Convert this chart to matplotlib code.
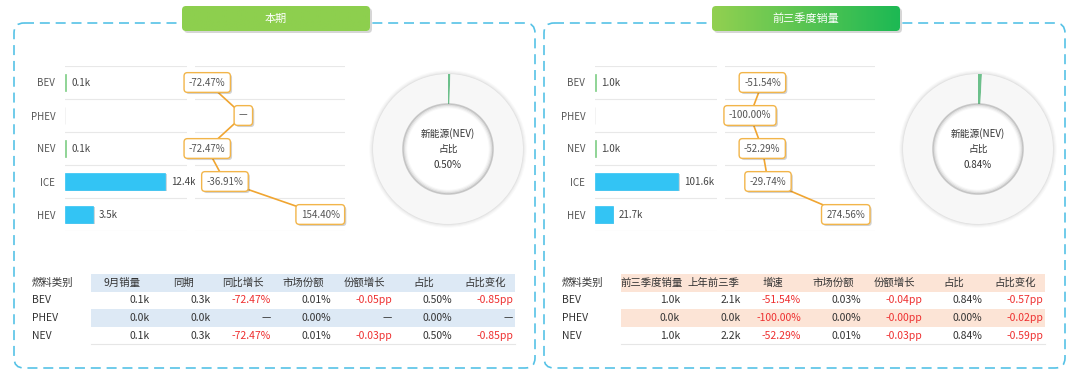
import matplotlib
matplotlib.use('Agg')
import matplotlib.pyplot as plt
import matplotlib.patheffects as pe
from matplotlib.patches import FancyBboxPatch, Circle, Rectangle
import numpy as np

plt.rcParams['font.family'] = ['Noto Sans CJK SC', 'DejaVu Sans']

# ---- data ----
categories = ['BEV', 'PHEV', 'NEV', 'ICE', 'HEV']

cur_sales = [0.1, 0.0, 0.1, 12.4, 3.5]            # k
cur_growth = [-72.47, np.nan, -72.47, -36.91, 154.40]
cur_nev_share = 0.50

ytd_sales = [1.0, 0.0, 1.0, 101.6, 21.7]          # k
ytd_growth = [-51.54, -100.00, -52.29, -29.74, 274.56]
ytd_nev_share = 0.84

table_rows = ['BEV', 'PHEV', 'NEV']
cur_headers = ['燃料类别', '9月销量', '同期', '同比增长', '市场份额', '份额增长', '占比', '占比变化']
cur_table = [['0.1k', '0.3k', '-72.47%', '0.01%', '-0.05pp', '0.50%', '-0.85pp'],
             ['0.0k', '0.0k', '—', '0.00%', '—', '0.00%', '—'],
             ['0.1k', '0.3k', '-72.47%', '0.01%', '-0.03pp', '0.50%', '-0.85pp']]
ytd_headers = ['燃料类别', '前三季度销量', '上年前三季', '增速', '市场份额', '份额增长', '占比', '占比变化']
ytd_table = [['1.0k', '2.1k', '-51.54%', '0.03%', '-0.04pp', '0.84%', '-0.57pp'],
             ['0.0k', '0.0k', '-100.00%', '0.00%', '-0.00pp', '0.00%', '-0.02pp'],
             ['1.0k', '2.2k', '-52.29%', '0.01%', '-0.03pp', '0.84%', '-0.59pp']]

W, H = 1080, 376
bar_colors = ['#7fcf86', '#eeeeee', '#7fcf86', '#33c4f4', '#33c4f4']
orange = '#f0a531'
red = '#ee2f2f'
text_c = '#444444'


def rect(x0, y0, x1, y1):
    # pixel box (y from top) -> figure fraction
    return [x0 / W, 1 - y1 / H, (x1 - x0) / W, (y1 - y0) / H]


fig = plt.figure(figsize=(10.8, 3.76), dpi=100)
bg = fig.add_axes([0, 0, 1, 1])
bg.axis('off')


def draw_panel(dx, title, c_left, c_right, sales, growth, share,
               headers, table, bar_max, glim, tab_color):
    # dashed frame
    bg.add_patch(FancyBboxPatch((14 + dx, 23), 521, 345,
                                boxstyle='round,pad=0,rounding_size=10',
                                fill=False, ec='#56c2e6', lw=1.2,
                                ls=(0, (6, 3.5))))
    # title button
    bx0, bx1 = 182 + dx, 370 + dx
    bg.add_patch(FancyBboxPatch((bx0 + 2, 8), bx1 - bx0, 25,
                                boxstyle='round,pad=0,rounding_size=4',
                                fc='#999999', ec='none', alpha=0.4, zorder=1))
    btn = FancyBboxPatch((bx0, 6), bx1 - bx0, 25,
                         boxstyle='round,pad=0,rounding_size=4',
                         fc='white', ec='none', zorder=1.5)
    bg.add_patch(btn)
    grad = np.linspace(0, 1, 100).reshape(1, -1)
    cmap = matplotlib.colors.LinearSegmentedColormap.from_list('b', [c_left, c_right])
    im = bg.imshow(grad, extent=(bx0, bx1, 31, 6), cmap=cmap, aspect='auto',
                   zorder=2)
    im.set_clip_path(btn)
    bg.text((bx0 + bx1) / 2, 18.5, title, color='white', fontsize=8,
            ha='center', va='center', zorder=3)

    y = np.arange(len(categories))

    # bar chart of sales
    ax = fig.add_axes(rect(65 + dx, 66, 187 + dx, 231))
    bars = ax.barh(y, sales, height=0.52, color=bar_colors,
                   edgecolor=bar_colors, linewidth=0.5)
    for b in bars[3:]:
        b.set_path_effects([pe.SimplePatchShadow(offset=(1, -1), alpha=0.2),
                            pe.Normal()])
    for i, v in enumerate(sales):
        if v > 0:
            ax.annotate(f'{v:.1f}k', (v, i), xytext=(4, 0),
                        textcoords='offset points', ha='left', va='center',
                        fontsize=7, color=text_c)
    ax.set_xlim(0, bar_max)
    ax.set_ylim(len(categories) - 0.5, -0.5)
    ax.set_yticks(y)
    ax.set_yticklabels(categories, fontsize=7, color='#555555')
    ax.tick_params(axis='y', length=0, pad=7)
    ax.set_xticks([])
    for s in ax.spines.values():
        s.set_visible(False)
    for b in np.arange(-0.5, len(categories)):
        ax.axhline(b, color='#e8e8e8', lw=0.8, zorder=0)

    # growth line
    lx = fig.add_axes(rect(195 + dx, 66, 345 + dx, 231))
    gx = np.nan_to_num(np.array(growth, dtype=float), nan=0.0)
    lx.plot(gx, y, color=orange, lw=1.2, zorder=2)
    for i, g in enumerate(growth):
        lab = '—' if np.isnan(g) else f'{g:.2f}%'
        t = lx.text(gx[i], i, lab, ha='center', va='center', fontsize=7,
                    color='#555555', zorder=3,
                    bbox=dict(boxstyle='round,pad=0.5,rounding_size=0.35',
                              fc='white', ec='#f2b54a', lw=1))
        t.get_bbox_patch().set_path_effects(
            [pe.SimplePatchShadow(offset=(1.2, -1.2), alpha=0.25), pe.Normal()])
    lx.set_xlim(*glim)
    lx.set_ylim(len(categories) - 0.5, -0.5)
    lx.set_xticks([])
    lx.set_yticks([])
    for s in lx.spines.values():
        s.set_visible(False)
    for b in np.arange(-0.5, len(categories)):
        lx.axhline(b, color='#e8e8e8', lw=0.8, zorder=0)

    # donut
    cx = 448 + dx
    dax = fig.add_axes(rect(cx - 82, 67, cx + 82, 231))
    lim = 82 / 75
    for r, a in [(1.05, 0.04), (1.035, 0.06), (1.02, 0.08), (1.008, 0.1)]:
        dax.add_patch(Circle((0, 0), r, fc='#888888', ec='none', alpha=a))
    dax.pie([share, 100 - share], colors=['#6cc08b', '#f7f7f7'], radius=1,
            startangle=90, counterclock=False,
            wedgeprops=dict(width=0.4, edgecolor='none'))
    dax.add_patch(Circle((0, 0), 0.6, fc='white', ec='none', zorder=3))
    for r, a in [(0.6, 0.35), (0.585, 0.2), (0.57, 0.1), (0.555, 0.05)]:
        dax.add_patch(Circle((0, 0), r, fill=False, ec='#777777', lw=1.2,
                             alpha=a, zorder=4))
    dax.text(0, 0.2, '新能源(NEV)', ha='center', va='center', fontsize=7,
             color='#333333', zorder=5)
    dax.text(0, 0, '占比', ha='center', va='center', fontsize=7,
             color='#333333', zorder=5)
    dax.text(0, -0.21, f'{share:.2f}%', ha='center', va='center', fontsize=7,
             color='#333333', zorder=5)
    dax.set_xlim(-lim, lim)
    dax.set_ylim(-lim, lim)
    dax.set_aspect('equal')
    dax.axis('off')

    # table
    bg.add_patch(Rectangle((91 + dx, 274), 424, 18, fc=tab_color, ec='none'))
    bg.add_patch(Rectangle((91 + dx, 309), 424, 18, fc=tab_color, ec='none'))
    bg.plot([91 + dx, 515 + dx], [344, 344], color='#e6e6e6', lw=0.8)
    col_right = [150, 211, 271, 331, 392, 452, 513]
    bg.text(32 + dx, 283, headers[0], ha='left', va='center', fontsize=7.5,
            color='#333333')
    for j, h in enumerate(headers[1:]):
        bg.text(col_right[j] - 28 + dx, 283, h, ha='center', va='center',
                fontsize=7.5, color='#333333')
    for i, row in enumerate(table):
        yy = 300 + i * 18
        bg.text(32 + dx, yy, table_rows[i], ha='left', va='center',
                fontsize=7.5, color='#333333')
        for j, v in enumerate(row):
            c = red if v.startswith('-') else '#333333'
            bg.text(col_right[j] + dx, yy, v, ha='right', va='center',
                    fontsize=7.5, color=c)


draw_panel(0, '本期', '#8dcf4e', '#8dcf4e', cur_sales, cur_growth,
           cur_nev_share, cur_headers, cur_table, 15.1, (-97, 204), '#dde9f5')
draw_panel(530, '前三季度销量', '#92d050', '#1db954', ytd_sales, ytd_growth,
           ytd_nev_share, ytd_headers, ytd_table, 149, (-198, 389), '#fce4d6')

bg.set_xlim(0, W)
bg.set_ylim(H, 0)

fig.savefig('out.png', dpi=100)
